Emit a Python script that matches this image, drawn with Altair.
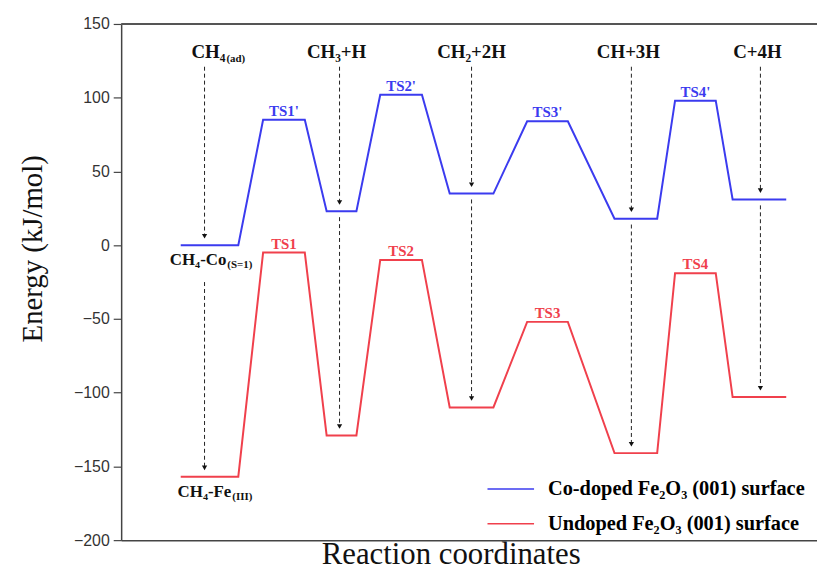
import altair as alt
import pandas as pd

# ---------------- data ----------------
states = ["IS", "TS1", "IM1", "TS2", "IM2", "TS3", "IM3", "TS4", "FS"]
seg_start = [6.0, 14.3, 20.7, 26.1, 33.1, 40.9, 49.7, 55.8, 61.6]
seg_end = [11.8, 18.5, 23.7, 30.3, 37.5, 45.0, 54.0, 59.9, 67.0]
co_energy = [0, 85, 23, 102, 35, 84, 18, 98, 31]
un_energy = [-157, -5, -129, -10, -110, -52, -141, -19, -103]

co_name = "Co-doped Fe₂O₃ (001) surface"
un_name = "Undoped Fe₂O₃  (001) surface"

ts_index = [1, 3, 5, 7]
co_ts_labels = ["TS1'", "TS2'", "TS3'", "TS4'"]
un_ts_labels = ["TS1", "TS2", "TS3", "TS4"]

arrow_x = [8.4, 22.0, 35.3, 51.4, 64.4]
arrow_state = [0, 2, 4, 6, 8]
species = ["CH₄", "CH₃+H", "CH₂+2H", "CH+3H", "C+4H"]
species_x = [10.5, 21.7, 35.3, 51.1, 64.1]
species_sub = ["(ad)", "", "", "", ""]

ylab_values = list(range(-200, 151, 25))

BLUE = "#3b3bef"
RED = "#f0404c"
W, H = 701, 520

# ---------------- tables ----------------
rows = []
for name, en in [(co_name, co_energy), (un_name, un_energy)]:
    for i, st in enumerate(states):
        rows.append({"series": name, "x": seg_start[i], "e": en[i], "o": 2 * i})
        rows.append({"series": name, "x": seg_end[i], "e": en[i], "o": 2 * i + 1})
path_df = pd.DataFrame(rows)

ts_rows = []
for k, i in enumerate(ts_index):
    xm = (seg_start[i] + seg_end[i]) / 2
    ts_rows.append({"x": xm, "e": co_energy[i], "t": co_ts_labels[k], "series": co_name})
    ts_rows.append({"x": xm, "e": un_energy[i], "t": un_ts_labels[k], "series": un_name})
ts_df = pd.DataFrame(ts_rows)

top_start = 121
dash_rows, head_rows = [], []
for k, (ax, si) in enumerate(zip(arrow_x, arrow_state)):
    cb = co_energy[si]
    ur = un_energy[si]
    dash_rows.append({"x": ax, "y1": top_start, "y2": cb + 6})
    lower_start = -25 if k == 0 else cb - 4
    dash_rows.append({"x": ax, "y1": lower_start, "y2": ur + 6})
    head_rows.append({"x": ax, "y": cb + 6})
    head_rows.append({"x": ax, "y": ur + 6})
dash_df = pd.DataFrame(dash_rows)
head_df = pd.DataFrame(head_rows)

top_df = pd.DataFrame({"x": species_x, "y": [127] * 5, "t": species})
sub_df = pd.DataFrame({"x": [species_x[0] + 0.1], "y": [127], "t": [species_sub[0]]})

bottom_main = pd.DataFrame({"x": [10.6, 11.1], "y": [-13.6, -171.0], "t": ["CH₄-Co", "CH₄-Fe"]})
bottom_sub = pd.DataFrame({"x": [10.7, 11.2], "y": [-13.6, -171.0], "t": ["(S=1)", "(III)"]})

frame_df = pd.DataFrame({"y": [150]})

# ---------------- scales ----------------
xs = alt.Scale(domain=[0, 70.1], nice=False, zero=False)
ys = alt.Scale(domain=[-200, 150], nice=False, zero=False)
cs = alt.Scale(domain=[co_name, un_name], range=[BLUE, RED])

x_axis = alt.Axis(
    title="Reaction coordinates", labels=False, ticks=False, grid=False,
    titleFontSize=31, titleX=332, titleY=24, titleBaseline="alphabetic",
    titleAlign="center",
)
y_axis = alt.Axis(
    title="Energy (kJ/mol)", values=ylab_values, grid=False,
    labelExpr="datum.value % 50 == 0 ? datum.label : ''",
    tickSize={"condition": {"test": "datum.value % 50 == 0", "value": 8}, "value": 4},
    labelPadding=4, titleFontSize=29, titleAngle=270, titleX=-89, titleY=226,
    titleAlign="center", titleBaseline="middle",
)

lines = alt.Chart(path_df).mark_line(strokeWidth=2).encode(
    x=alt.X("x:Q", scale=xs, axis=x_axis),
    y=alt.Y("e:Q", scale=ys, axis=y_axis),
    color=alt.Color(
        "series:N", scale=cs,
        legend=alt.Legend(
            title=None, orient="none", legendX=368, legendY=444,
            symbolType="stroke", symbolSize=2200, symbolStrokeWidth=1.5,
            labelFont="Liberation Serif", labelFontWeight="bold",
            labelFontSize=20.5, labelColor="black", labelOffset=13,
            rowPadding=-21, padding=0, labelLimit=400,
        ),
    ),
    order="o:Q",
)

frame = alt.Chart(frame_df).mark_rule(color="#555", strokeWidth=2).encode(
    y=alt.Y("y:Q", scale=ys)
)

dashes = alt.Chart(dash_df).mark_rule(color="#222", strokeWidth=1, strokeDash=[4, 3]).encode(
    x=alt.X("x:Q", scale=xs), y=alt.Y("y1:Q", scale=ys), y2="y2:Q"
)
heads = alt.Chart(head_df).mark_point(shape="triangle-down", filled=True, size=28, color="#111", opacity=1).encode(
    x=alt.X("x:Q", scale=xs), y=alt.Y("y:Q", scale=ys)
)

ts_text = alt.Chart(ts_df).mark_text(
    font="Liberation Serif", fontWeight="bold", fontSize=15, baseline="alphabetic", dy=-4
).encode(
    x=alt.X("x:Q", scale=xs), y=alt.Y("e:Q", scale=ys), text="t:N",
    color=alt.Color("series:N", scale=cs, legend=None),
)

top_first = alt.Chart(top_df.iloc[[0]]).mark_text(
    font="Liberation Serif", fontWeight="bold", fontSize=19, baseline="alphabetic", color="#111", align="right"
).encode(x=alt.X("x:Q", scale=xs), y=alt.Y("y:Q", scale=ys), text="t:N")
top_rest = alt.Chart(top_df.iloc[1:]).mark_text(
    font="Liberation Serif", fontWeight="bold", fontSize=19, baseline="alphabetic", color="#111", align="center"
).encode(x=alt.X("x:Q", scale=xs), y=alt.Y("y:Q", scale=ys), text="t:N")
top_sub = alt.Chart(sub_df).mark_text(
    font="Liberation Serif", fontWeight="bold", fontSize=11, baseline="alphabetic", color="#111", align="left", dy=4
).encode(x=alt.X("x:Q", scale=xs), y=alt.Y("y:Q", scale=ys), text="t:N")

bot_main = alt.Chart(bottom_main).mark_text(
    font="Liberation Serif", fontWeight="bold", fontSize=17, baseline="alphabetic", color="#111", align="right"
).encode(x=alt.X("x:Q", scale=xs), y=alt.Y("y:Q", scale=ys), text="t:N")
bot_sub = alt.Chart(bottom_sub).mark_text(
    font="Liberation Serif", fontWeight="bold", fontSize=11, baseline="alphabetic", color="#111", align="left", dy=3
).encode(x=alt.X("x:Q", scale=xs), y=alt.Y("y:Q", scale=ys), text="t:N")

chart = alt.layer(
    frame, dashes, heads, lines, ts_text, top_first, top_rest, top_sub, bot_main, bot_sub
).properties(
    width=W, height=H,
    autosize=alt.AutoSizeParams(type="none"),
    padding={"left": 114, "top": 14, "right": 0, "bottom": 29},
).configure_view(stroke=None).configure_axis(
    labelFont="Liberation Sans", labelFontSize=16, labelColor="#333",
    domainColor="#444", domainWidth=1.5, tickColor="#444", tickWidth=1.2,
    titleFont="Liberation Serif", titleFontWeight="normal", titleColor="#111",
)

chart.save("out.html", embed_options={"renderer": "svg", "actions": False})
